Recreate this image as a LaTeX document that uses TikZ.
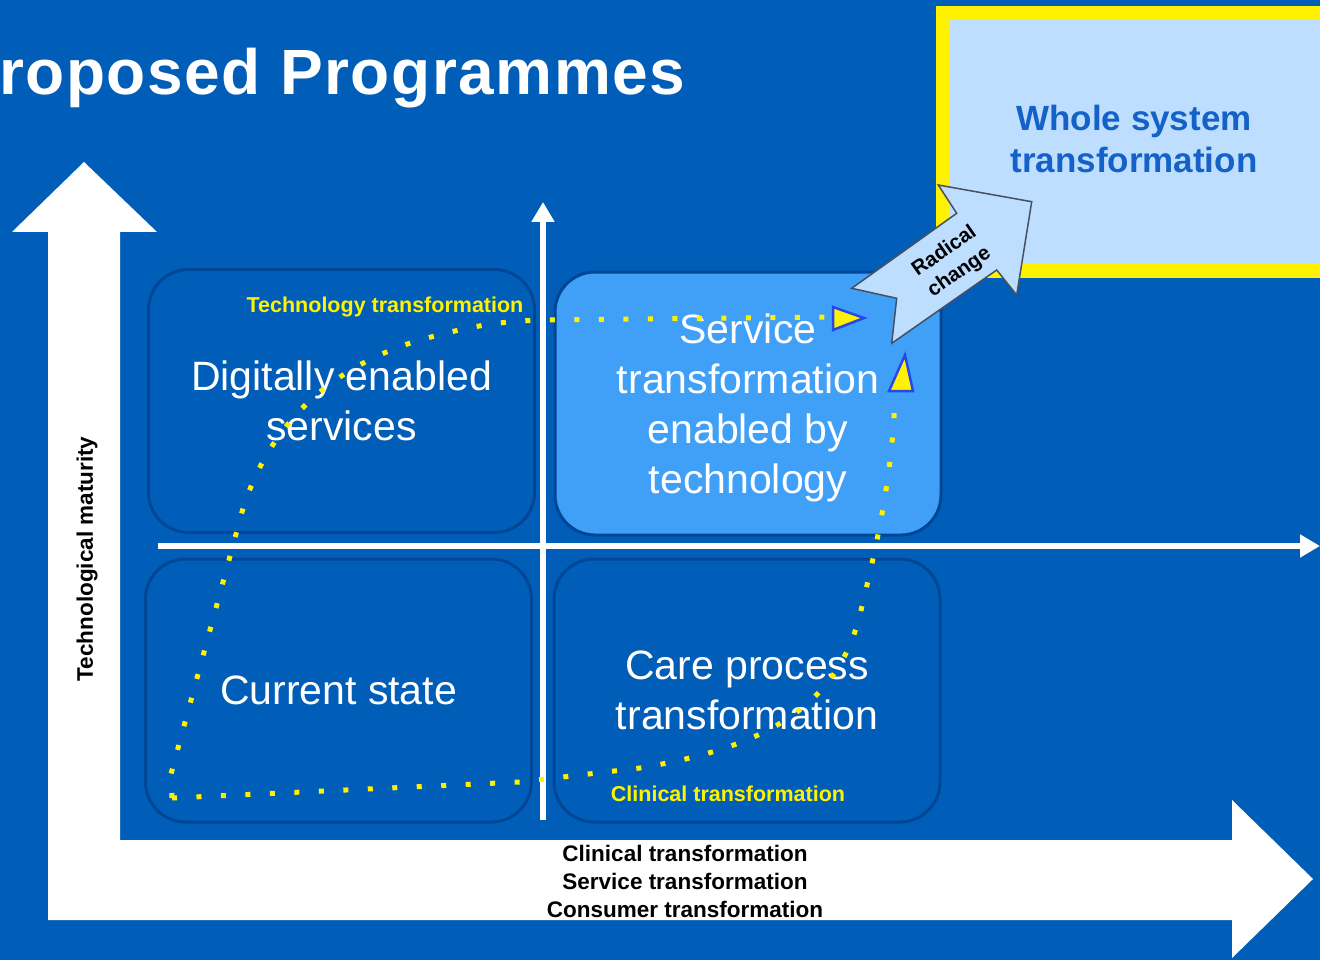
\documentclass[tikz,border=0pt]{standalone}
\usepackage{fontspec}
\setmainfont{Liberation Sans}
\usetikzlibrary{arrows.meta,calc,positioning}
\definecolor{nhsblue}{RGB}{0,94,184}
\definecolor{edgeblue}{RGB}{0,70,150}
\definecolor{servblue}{RGB}{64,160,248}
\definecolor{paleblue}{RGB}{190,222,255}
\definecolor{wholetext}{RGB}{20,98,200}
\definecolor{tipblue}{RGB}{40,70,235}
\definecolor{radgrey}{RGB}{70,80,95}
\tikzstyle{quad} = [draw=edgeblue, line width=3pt, rounded corners=40pt, minimum width=386pt, minimum height=263pt, text=white, align=center, font=\fontsize{41}{50}\selectfont]
\tikzstyle{trail} = [yellow, line width=5pt, dash pattern=on 5pt off 19.5pt]
\tikzstyle{pathtip} = [fill=yellow, draw=tipblue, line width=2.5pt, line join=miter]
\tikzstyle{axis} = [white, line width=5.5pt, -{Triangle[length=20pt,width=22pt]}]
\tikzstyle{tag} = [font=\fontsize{21.5}{26}\selectfont\bfseries, text=yellow, inner sep=0pt]
\tikzstyle{caption} = [font=\fontsize{22.5}{28}\selectfont\bfseries, align=center, inner sep=0pt]

\begin{document}
\begin{tikzpicture}[x=1pt,y=-1pt] %[every node/.style={draw}]
\useasboundingbox (0,0) rectangle (1320,960);
\fill [nhsblue] (0,0) rectangle (1320,960);
% big L shaped arrow
\fill [white] (48,920) -- (48,232) -- (12,232) -- (84,162) -- (157,232) -- (120,232) -- (120,840)
  -- (1232,840) -- (1232,800) -- (1313,879) -- (1232,958) -- (1232,920) -- cycle;
\node (title) [anchor=base west, inner sep=0pt, text=white, font=\fontsize{64}{70}\selectfont\bfseries\addfontfeature{LetterSpace=2.4}] at (-1,95) {roposed Programmes};
\draw [draw=yellow, line width=14pt, fill=paleblue] (943,13) rectangle (1345,271);
\node (whole) [align=center, text=wholetext, font=\fontsize{35}{42}\selectfont\bfseries] at (1134,139) {Whole system\\transformation};

\node (digital) [quad] at (341.5,401) {Digitally enabled\\services};
\node (service) [quad, fill=servblue] at (748,403.5) {\rule{0pt}{39pt}Service\\transformation\\enabled by\\technology};
\node (current) [quad] at (338.5,690.5) {Current state};
\node (care) [quad] at (747,690.5) {Care process\\transformation};

\coordinate (vbot) at (543,820);
\coordinate (vtop) at (543,202);
\coordinate (hleft) at (158,546);
\coordinate (hright) at (1320,546);
\draw [axis] (vbot) -- (vtop);
\draw [axis] (hleft) -- (hright);

% radical change arrow
\draw [fill=paleblue, draw=radgrey, line width=1.5pt] (851.7,288.3) -- (896.7,298.3) -- (891.7,343.3) -- (996.7,270)
  -- (1016.7,295) -- (1031.7,201.7) -- (938.3,185) -- (956.7,213.3) -- cycle;
\node (radical) [rotate=35, align=center, inner sep=0pt, font=\fontsize{20.5}{26}\selectfont\bfseries] at (952,262) {Radical\\change};

% dotted trails
\coordinate (origin) at (172,798);
\coordinate (techend) at (833,317);
\coordinate (servend) at (895,394);
\draw [trail] (origin) -- (171,774) -- (242,512) .. controls (265,435) and (320,370) .. (420,340)
  .. controls (470,326) and (500,321) .. (545,320) -- (techend);
\draw [trail] (origin) -- (520,782) -- (640,768) .. controls (760,748) and (840,710) .. (862,606)
  .. controls (878,540) and (893,470) .. (servend);
\draw [pathtip] ($(techend)+(0,-10)$) -- ($(techend)+(31,1)$) -- ($(techend)+(0,13)$) -- cycle;
\draw [pathtip] ($(servend)+(-6,-3)$) -- ($(servend)+(10,-39)$) -- ($(servend)+(18,-3)$) -- cycle;
\node (techtag) [tag] at (385,307) {Technology transformation};
\node (clintag) [tag] at (728,794) {Clinical transformation};

\node (xlabel) [caption] at (685,881) {Clinical transformation\\Service transformation\\Consumer transformation};
\node (ylabel) [caption, rotate=90] at (87,559) {Technological maturity};
\end{tikzpicture}
\end{document}
